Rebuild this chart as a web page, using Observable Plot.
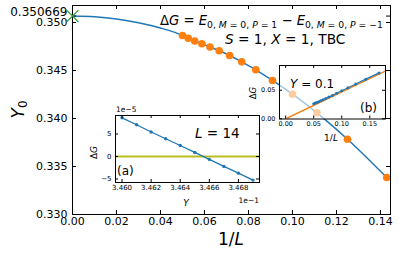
<!DOCTYPE html>
<html><head><meta charset="utf-8">
<script src="https://cdn.jsdelivr.net/npm/d3@7"></script>
<script src="https://cdn.jsdelivr.net/npm/@observablehq/plot@0.6"></script>
<style>
body{margin:0;background:#fff;}
#wrap{position:relative;width:399px;height:258px;overflow:hidden;}
#wrap svg{position:absolute;overflow:visible;}
</style></head><body><div id="wrap"></div>
<script>
// ---------- data ----------
const L_main = [20,19,18,17,16,15,14,13,12,11,10,9,8,7];
const Y0_main = [0.34865,0.34836,0.34808,0.34778,0.34745,0.34705,0.34656,0.34590,0.34507,0.34396,0.34253,0.34059,0.33784,0.33385];
const Y0_extrap = 0.350669;
const fitX = [0, 0.01, 0.02, 0.03, 0.04];
const fitY = [0.350669, 0.35059, 0.35036, 0.34997, 0.34942];
const mainXTicks = [0,0.02,0.04,0.06,0.08,0.10,0.12,0.14];
const mainYTicks = [0.330,0.335,0.340,0.345,0.350];

const Ya = [3.460,3.461,3.462,3.463,3.464,3.465,3.466,3.467,3.468,3.469]; // x1e-1
const dGa = [8.6,7.05,5.45,3.95,2.45,0.9,-0.65,-2.2,-3.7,-5.25];          // x1e-5
const aXTicks = [3.460,3.462,3.464,3.466,3.468];
const aYTicks = [-5,0,5];

const Lb = [20,19,18,17,16,15,14,13,12,11,10,9,8,7,6];
const dGb = [0.0265,0.0275,0.0287,0.0300,0.0315,0.0334,0.0355,0.0380,0.0410,0.0446,0.0490,0.0543,0.0610,0.0695,0.0805];
const fitBx = [-0.011, 0.178];
const fitBy = [-0.0053, 0.0838];
const bXTicks = [0,0.05,0.10,0.15];
const bYTicks = [0,0.05];

const BLUE="#1f77b4", ORANGE="#ff7f0e", GREEN="#2ca02c", OLIVE="#bcbd22";
const FONT="DejaVu Sans";

function addText(svg, x, y, parts, opts={}) {
  const {size=12, anchor="start", rotate=0} = opts;
  const t = svg.append("text").attr("x",x).attr("y",y)
    .attr("font-family",FONT).attr("font-size",size).attr("text-anchor",anchor).attr("fill","black");
  if (rotate) t.attr("transform",`rotate(${rotate},${x},${y})`);
  let cur = 0;
  for (const p of parts) {
    const [s, st] = typeof p === "string" ? [p,{}] : p;
    const shift = st.sub ? size*0.2 : 0;
    const ts = t.append("tspan").text(s);
    if (st.it) ts.attr("font-style","italic");
    if (st.sub) ts.attr("font-size", size*0.7);
    if (shift !== cur) { ts.attr("dy", shift-cur); cur = shift; }
  }
  return t;
}
function inTicks(xt, yt, fw, fh, len) {
  return [
    Plot.ruleX(xt, {x: d=>d, insetTop: fh-len, stroke:"black"}),
    Plot.ruleX(xt, {x: d=>d, insetBottom: fh-len, stroke:"black"}),
    Plot.ruleY(yt, {y: d=>d, insetRight: fw-len, stroke:"black"}),
    Plot.ruleY(yt, {y: d=>d, insetLeft: fw-len, stroke:"black"})
  ];
}
const wrap = d3.select("#wrap");

// ---------- main ----------
const W=399,H=258,mL=72,mR=9,mT=5,mB=44;
const fw=W-mL-mR, fh=H-mT-mB;
const mainDots = L_main.map((L,i)=>({x:1/L, y:Y0_main[i]}));
const curve = fitX.map((x,i)=>({x, y:fitY[i]})).concat(mainDots).sort((a,b)=>a.x-b.x);
const main = Plot.plot({
  width:W, height:H, marginLeft:mL, marginRight:mR, marginTop:mT, marginBottom:mB,
  style:{fontFamily:FONT, fontSize:"11px", color:"black", background:"transparent", left:"0px", top:"0px"},
  x:{domain:[0,0.14455]},
  y:{domain:[0.330,0.35177]},
  marks:[
    Plot.line(curve,{x:"x",y:"y",stroke:BLUE,strokeWidth:1.5,curve:"monotone-x"}),
    Plot.dot(mainDots,{x:"x",y:"y",r:3.8,fill:ORANGE}),
    Plot.frame({stroke:"black"}),
    ...inTicks(mainXTicks, mainYTicks.concat([Y0_extrap]), fw, fh, 4),
    Plot.axisX(mainXTicks,{tickSize:0,tickPadding:3,tickFormat:d=>d.toFixed(2),label:null,fontSize:11}),
    Plot.axisY(mainYTicks,{tickSize:0,tickPadding:5,tickFormat:d=>d.toFixed(3),label:null,fontSize:11}),
    Plot.axisY([Y0_extrap],{tickSize:0,tickPadding:5,tickFormat:d=>String(d),label:null,fontSize:12,dy:-3.5}),
    Plot.dot([{x:0,y:Y0_extrap}],{x:"x",y:"y",symbol:"times",r:5.5,stroke:GREEN,strokeWidth:1.2,clip:false})
  ]
});
wrap.node().appendChild(main);
const ms = d3.select(main);
addText(ms, 160, 25.3, ["Δ",["G",{it:1}]," = ",["E",{it:1}],["0, ",{sub:1}],["M",{sub:1,it:1}],[" = 0, ",{sub:1}],["P",{sub:1,it:1}],[" = 1",{sub:1}]," − ",["E",{it:1}],["0, ",{sub:1}],["M",{sub:1,it:1}],[" = 0, ",{sub:1}],["P",{sub:1,it:1}],[" = −1",{sub:1}]], {size:13.2});
addText(ms, 225, 44, [["S",{it:1}]," = 1, ",["X",{it:1}]," = 1, TBC"], {size:13.7});
addText(ms, 24, 109.5, [["Y",{it:1}],["0",{sub:1}]], {size:17, anchor:"middle", rotate:-90});
addText(ms, 231, 245, ["1/",["L",{it:1}]], {size:17, anchor:"middle"});

// ---------- inset (a) ----------
{
  const aL=30,aT=12,aR=6,aB=30,aw=144,ah=67;
  const p = Plot.plot({
    width:aL+aw+aR, height:aT+ah+aB, marginLeft:aL, marginRight:aR, marginTop:aT, marginBottom:aB,
    style:{fontFamily:FONT, color:"black", background:"transparent", left:(115-aL)+"px", top:(115-aT)+"px"},
    x:{domain:[3.45955,3.46945]},
    y:{domain:[-5.78,9.11]},
    marks:[
      Plot.frame({fill:"white",stroke:"none"}),
      Plot.ruleY([0],{stroke:OLIVE,strokeWidth:1.8}),
      Plot.line(Ya.map((x,i)=>({x,y:dGa[i]})),{x:"x",y:"y",stroke:BLUE,strokeWidth:1.3}),
      Plot.dot(Ya.map((x,i)=>({x,y:dGa[i]})),{x:"x",y:"y",r:1.7,fill:BLUE}),
      Plot.frame({stroke:"black"}),
      ...inTicks(aXTicks, aYTicks, aw, ah, 3),
      Plot.axisX(aXTicks,{tickSize:0,tickPadding:3,tickFormat:d=>d.toFixed(3),label:null,fontSize:7}),
      Plot.axisY(aYTicks,{tickSize:0,tickPadding:4,tickFormat:d=>d<0?"−"+(-d):String(d),label:null,fontSize:7})
    ]
  });
  wrap.node().appendChild(p);
  const s = d3.select(p);
  addText(s, aL+1, aT-3, ["1e−5"], {size:7.5});
  addText(s, aL+aw, aT+ah+21, ["1e−1"], {size:7.5, anchor:"end"});
  addText(s, 101, aT+ah+24, [["Y",{it:1}]], {size:9, anchor:"middle"});
  addText(s, 11.5, aT+ah/2+4, ["Δ",["G",{it:1}]], {size:9, anchor:"middle", rotate:-90});
  addText(s, 110, 35, [["L",{it:1}]," = 14"], {size:13.5});
  addText(s, 32, 72, ["(a)"], {size:12});
}

// ---------- inset (b) ----------
{
  const bL=30,bT=3,bR=4,bB=26,bw=106,bh=53.5;
  const bd = Lb.map((L,i)=>({x:1/L,y:dGb[i]}));
  const p = Plot.plot({
    width:bL+bw+bR, height:bT+bh+bB, marginLeft:bL, marginRight:bR, marginTop:bT, marginBottom:bB,
    style:{fontFamily:FONT, color:"black", background:"transparent", left:(279.3-bL)+"px", top:(65-bT)+"px"},
    x:{domain:[-0.011,0.178]},
    y:{domain:[-0.0005,0.0935]},
    marks:[
      Plot.frame({fill:"white",fillOpacity:0.6,stroke:"none"}),
      Plot.line(fitBx.map((x,i)=>({x,y:fitBy[i]})),{x:"x",y:"y",stroke:ORANGE,strokeWidth:1.5,clip:true}),
      Plot.line(bd,{x:"x",y:"y",stroke:BLUE,strokeWidth:1.2}),
      Plot.dot(bd,{x:"x",y:"y",r:1.5,fill:BLUE}),
      Plot.frame({stroke:"black"}),
      ...inTicks(bXTicks, bYTicks, bw, bh, 3),
      Plot.axisX(bXTicks,{tickSize:0,tickPadding:2,tickFormat:d=>d.toFixed(2),label:null,fontSize:6.5}),
      Plot.axisY(bYTicks,{tickSize:0,tickPadding:4,tickFormat:d=>d.toFixed(2),label:null,fontSize:6.5})
    ]
  });
  wrap.node().appendChild(p);
  const s = d3.select(p);
  addText(s, 6.5, 31, ["Δ",["G",{it:1}]], {size:8.5, anchor:"middle", rotate:-90});
  addText(s, 41, 26, [["Y",{it:1}]," = 0.1"], {size:12});
  addText(s, 111, 49.5, ["(b)"], {size:12});
  addText(s, 82, 79, ["1/",["L",{it:1}]], {size:9, anchor:"middle"});
}
</script></body></html>
